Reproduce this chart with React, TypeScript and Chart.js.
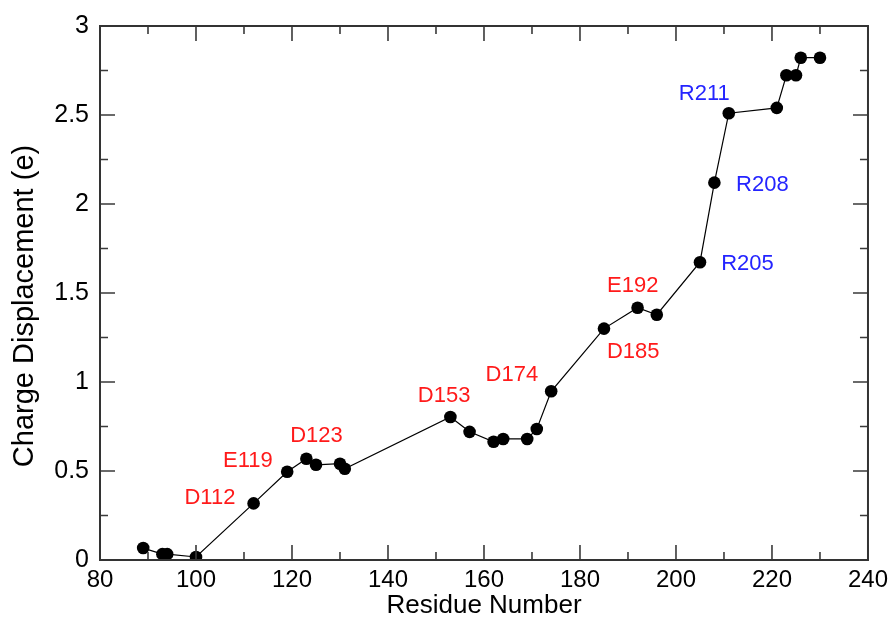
import React, { useEffect, useRef } from 'react';
import { Chart, registerables } from 'chart.js';

Chart.register(...registerables);

const residues = [89, 93, 94, 100, 112, 119, 123, 125, 130, 131, 153, 157, 162, 164, 169, 171, 174, 185, 192, 196, 205, 208, 211, 221, 223, 225, 226, 230];
const displacement = [0.067, 0.033, 0.033, 0.017, 0.318, 0.496, 0.569, 0.535, 0.541, 0.513, 0.803, 0.72, 0.664, 0.68, 0.68, 0.736, 0.948, 1.3, 1.417, 1.378, 1.673, 2.12, 2.51, 2.54, 2.723, 2.723, 2.822, 2.822];

const labelTexts = ['D112', 'E119', 'D123', 'D153', 'D174', 'D185', 'E192', 'R205', 'R208', 'R211'];
const labelX = [102.9, 110.8, 125.1, 151.7, 165.8, 191.1, 191.0, 214.9, 218.0, 205.9];
const labelY = [0.351, 0.558, 0.697, 0.92, 1.038, 1.17, 1.539, 1.662, 2.108, 2.621];
const labelColors = ['#ff1a1a', '#ff1a1a', '#ff1a1a', '#ff1a1a', '#ff1a1a', '#ff1a1a', '#ff1a1a', '#2424ff', '#2424ff', '#2424ff'];

const xTitle = 'Residue Number';
const yTitle = 'Charge Displacement (e)';

const xMin = 80;
const xMax = 240;
const xMajorStep = 20;
const xMinorStep = 10;
const yMin = 0;
const yMax = 3;
const yMajorStep = 0.5;
const yMinorStep = 0.25;

const FONT = "'Liberation Sans', Arial, Helvetica, sans-serif";

const framePlugin = {
  id: 'framePlugin',
  afterDatasetsDraw(chart: any) {
    const { ctx, scales } = chart;
    const xs = scales.x;
    const ys = scales.y;
    ctx.save();
    ctx.font = `22px ${FONT}`;
    ctx.textAlign = 'center';
    ctx.textBaseline = 'middle';
    labelTexts.forEach((t, i) => {
      ctx.fillStyle = labelColors[i];
      ctx.fillText(t, xs.getPixelForValue(labelX[i]), ys.getPixelForValue(labelY[i]));
    });
    ctx.restore();
  },
  afterDraw(chart: any) {
    const { ctx, chartArea, scales } = chart;
    const xs = scales.x;
    const ys = scales.y;
    const { left, right, top, bottom } = chartArea;
    ctx.save();
    ctx.strokeStyle = '#3a3a3a';
    ctx.lineWidth = 1.6;
    ctx.beginPath();
    for (let v = xMin; v <= xMax + 1e-9; v += xMinorStep) {
      const px = xs.getPixelForValue(v);
      const major = Math.abs((v - xMin) % xMajorStep) < 1e-9;
      const len = major ? 15 : 8;
      ctx.moveTo(px, bottom);
      ctx.lineTo(px, bottom - len);
      ctx.moveTo(px, top);
      ctx.lineTo(px, top + len);
    }
    for (let v = yMin; v <= yMax + 1e-9; v += yMinorStep) {
      const py = ys.getPixelForValue(v);
      const k = (v - yMin) / yMajorStep;
      const major = Math.abs(k - Math.round(k)) < 1e-9;
      const len = major ? 15 : 8;
      ctx.moveTo(left, py);
      ctx.lineTo(left + len, py);
      ctx.moveTo(right, py);
      ctx.lineTo(right - len, py);
    }
    ctx.stroke();
    ctx.lineWidth = 2;
    ctx.strokeStyle = '#333';
    ctx.strokeRect(left, top, right - left, bottom - top);

    // y-axis title
    ctx.translate(25, (top + bottom) / 2 + 13);
    ctx.rotate(-Math.PI / 2);
    ctx.font = `29px ${FONT}`;
    ctx.fillStyle = '#000';
    ctx.textAlign = 'center';
    ctx.textBaseline = 'middle';
    ctx.fillText(yTitle, 0, 0);
    ctx.restore();
  },
};

export default function App() {
  const canvasRef = useRef<HTMLCanvasElement | null>(null);

  useEffect(() => {
    const canvas = canvasRef.current;
    if (!canvas) return;
    const chart = new Chart(canvas, {
      type: 'scatter',
      data: {
        datasets: [
          {
            data: residues.map((r, i) => ({ x: r, y: displacement[i] })),
            showLine: true,
            borderColor: '#000',
            borderWidth: 1.2,
            backgroundColor: '#000',
            pointBackgroundColor: '#000',
            pointBorderColor: '#000',
            pointRadius: 6.3,
            pointBorderWidth: 0,
          },
        ],
      },
      options: {
        responsive: false,
        animation: false,
        events: [],
        layout: { padding: { left: 0, top: 22, right: 24, bottom: 0 } },
        plugins: {
          legend: { display: false },
          tooltip: { enabled: false },
        },
        scales: {
          x: {
            type: 'linear',
            min: xMin,
            max: xMax,
            border: { display: false },
            grid: { display: false, drawTicks: false },
            ticks: {
              stepSize: xMajorStep,
              padding: 6,
              color: '#000',
              font: { family: FONT, size: 24 },
              callback: (v: any) => String(v),
            },
            title: {
              display: true,
              text: xTitle,
              color: '#000',
              font: { family: FONT, size: 26, lineHeight: 1 },
              padding: { top: 0, bottom: 1 },
            },
            afterFit(scale: any) {
              scale.height = 60;
            },
          },
          y: {
            type: 'linear',
            min: yMin,
            max: yMax,
            border: { display: false },
            grid: { display: false, drawTicks: false },
            ticks: {
              stepSize: yMajorStep,
              padding: 11,
              color: '#000',
              font: { family: FONT, size: 25 },
              callback: (v: any) => String(v),
            },
            title: { display: false },
            afterFit(scale: any) {
              scale.width = 100;
            },
          },
        },
      },
      plugins: [framePlugin],
    });
    return () => chart.destroy();
  }, []);

  return (
    <div style={{ position: 'fixed', left: 0, top: 0, width: 894, height: 620, background: '#fff' }}>
      <canvas ref={canvasRef} width={894} height={620} style={{ display: 'block' }} />
    </div>
  );
}
